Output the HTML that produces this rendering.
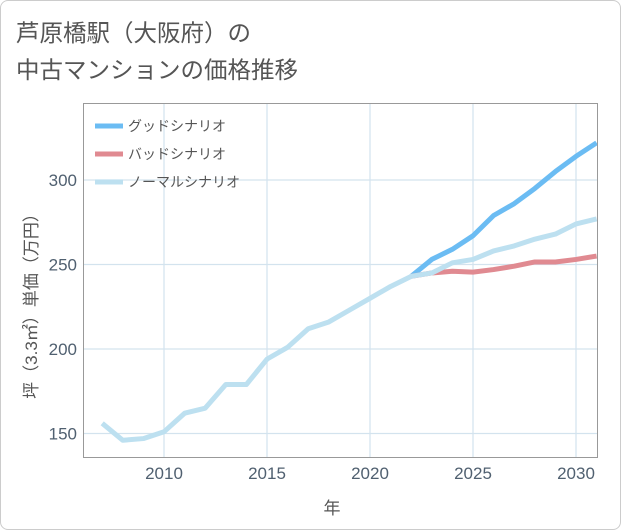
<!DOCTYPE html>
<html><head><meta charset="utf-8"><style>
body{margin:0;background:#fff;font-family:"Liberation Sans","Noto Sans CJK JP",sans-serif}
#card{position:absolute;left:0;top:0;width:619px;height:528px;border:1px solid #ccc;border-radius:8px;background:#fff}
</style></head><body>
<div id="card"></div>
<svg width="621" height="530" style="position:absolute;left:0;top:0">
<text x="16" y="41" font-size="23.5" fill="#555">芦原橋駅（大阪府）の</text>
<text x="16" y="78" font-size="23.5" fill="#555">中古マンションの価格推移</text>
<g id="grid"></g>
<rect x="83.5" y="103.5" width="514" height="354" fill="none" stroke="#999"/>
<g id="series"></g>
<g id="ticks"></g>
<text x="332" y="514" font-size="17" fill="#555" text-anchor="middle">年</text>
<text transform="translate(37,302) rotate(-90)" font-size="17" fill="#555" text-anchor="middle">坪（3.3㎡）単価（万円）</text>
<g id="legend"></g>
</svg>
<script>
const years=[2007,2008,2009,2010,2011,2012,2013,2014,2015,2016,2017,2018,2019,2020,2021,2022,2023,2024,2025,2026,2027,2028,2029,2030,2031];
const normal=[156,146,147,151,162,165,179,179,194,201,212,216,223,230,237,243,245,251,253,258,261,265,268,274,277];
const scenYears=[2022,2023,2024,2025,2026,2027,2028,2029,2030,2031];
const good=[243,253,259,267,279,286,295,305,314,322];
const bad=[243,245,246,245.5,247,249,251.5,251.5,253,255];
const xTicks=[2010,2015,2020,2025,2030];
const yTicks=[150,200,250,300];
const NS="http://www.w3.org/2000/svg";
const X=v=>164+(v-2010)*20.6;
const Y=v=>180+(300-v)*1.69;
function mk(t,a,p){const e=document.createElementNS(NS,t);for(const k in a)e.setAttribute(k,a[k]);p.appendChild(e);return e;}
const grid=document.getElementById('grid'),ticks=document.getElementById('ticks'),ser=document.getElementById('series'),leg=document.getElementById('legend');
xTicks.forEach(v=>{
 const l=mk('line',{x1:X(v),x2:X(v),y1:104,y2:457,stroke:'#d3e3ee','stroke-width':1.2},grid);
 
 
 const t=mk('text',{x:X(v),y:479,'font-size':17,fill:'#506070','text-anchor':'middle'},ticks);t.textContent=v;
 
 
});
yTicks.forEach(v=>{
 const l=mk('line',{x1:84,x2:597,y1:Y(v),y2:Y(v),stroke:'#d3e3ee','stroke-width':1.2},grid);
 
 
 const t=mk('text',{x:77,y:Y(v)+6,'font-size':17,fill:'#506070','text-anchor':'end'},ticks);t.textContent=v;
 
 
});
function line(xs,ys,c,n){
 const p=mk('polyline',{points:xs.map((x,i)=>X(x)+','+Y(ys[i])).join(' '),fill:'none',stroke:c,'stroke-width':5,'stroke-linejoin':'round'},ser);
 
 
}
const cp=mk('clipPath',{id:'cp'},ser);mk('rect',{x:84,y:104,width:513,height:353},cp);
ser.setAttribute('clip-path','url(#cp)');
line(scenYears,good,'#6bbcf3','good-scenario-line');
line(scenYears,bad,'#e08a91','bad-scenario-line');
line(years,normal,'#bde0f0','normal-scenario-line');
[['グッドシナリオ','#6bbcf3','legend-good'],['バッドシナリオ','#e08a91','legend-bad'],['ノーマルシナリオ','#bde0f0','legend-normal']].forEach((d,i)=>{
 const g=mk('g',{},leg);
 
 
 const y=126+i*28;
 mk('line',{x1:95,x2:123,y1:y,y2:y,stroke:d[1],'stroke-width':5},g);
 const t=mk('text',{x:128,y:y+5,'font-size':14,fill:'#555'},g);t.textContent=d[0];
});
</script>
</body></html>
